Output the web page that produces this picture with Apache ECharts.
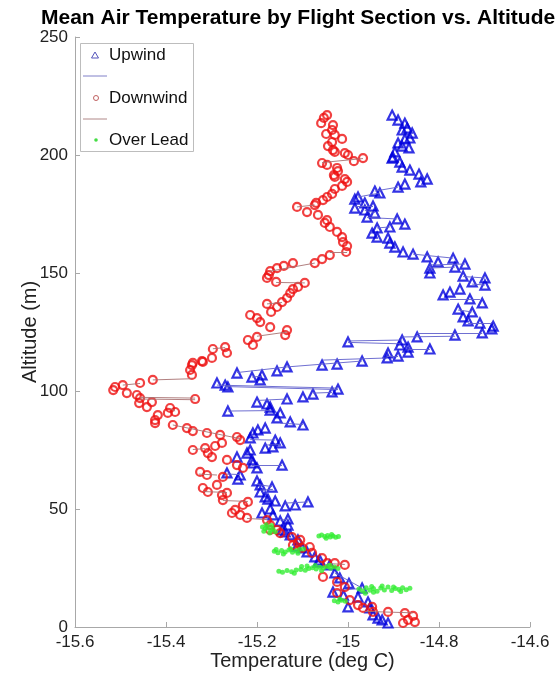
<!DOCTYPE html>
<html>
<head>
<meta charset="utf-8">
<script src="https://cdn.jsdelivr.net/npm/echarts@6/dist/echarts.min.js"></script>
<style>
html,body{margin:0;padding:0;background:#fff;}
#chart{width:556px;height:681px;}
</style>
</head>
<body>
<div id="chart"></div>
<script>
// ---- data (temperature in deg C, altitude in m) ----
var titleText = 'Mean Air Temperature by Flight Section vs. Altitude';
var xTicks = [-15.6, -15.4, -15.2, -15, -14.8, -14.6];
var yTicks = [0, 50, 100, 150, 200, 250];
var seriesNames = ['Upwind', 'Downwind', 'Over Lead'];

var upwindPoints = [
[-14.903,216.9],[-14.890,214.8],[-14.875,213.5],[-14.870,211.4],[-14.881,210.6],[-14.859,209.3],[-14.864,207.2],[-14.875,206.8],[-14.890,205.1],[-14.881,203.8],[-14.866,203.0],[-14.897,201.3],[-14.901,199.1],[-14.903,198.7],[-14.886,197.0],[-14.881,194.9],[-14.864,193.6],[-14.844,191.9],[-14.826,189.8],[-14.840,188.6],[-14.875,187.7],[-14.890,186.4],[-14.930,183.9],[-14.941,184.7],[-14.978,182.2],[-14.985,181.3],[-14.963,179.7],[-14.945,178.4],[-14.985,177.5],[-14.963,176.7],[-14.941,175.4],[-14.958,173.7],[-14.892,172.9],[-14.875,170.7],[-14.908,169.5],[-14.936,169.1],[-14.947,166.9],[-14.936,165.2],[-14.912,164.8],[-14.908,162.7],[-14.897,161.0],[-14.879,158.9],[-14.857,158.0],[-14.826,156.8],[-14.769,156.3],[-14.802,154.7],[-14.743,153.8],[-14.765,152.5],[-14.820,152.1],[-14.820,150.0],[-14.747,148.7],[-14.699,147.9],[-14.727,146.2],[-14.699,144.9],[-14.754,143.2],[-14.776,141.9],[-14.791,140.7],[-14.732,139.0],[-14.705,137.3],[-14.758,134.7],[-14.727,133.5],[-14.747,131.4],[-14.736,129.7],[-14.710,128.8],[-14.681,127.5],[-14.684,126.3],[-14.705,124.6],[-14.765,123.7],[-14.848,122.9],[-14.881,121.6],[-15.000,120.8],[-14.886,119.5],[-14.868,118.6],[-14.820,117.8],[-14.868,116.5],[-14.912,116.1],[-14.890,114.8],[-14.914,114.0],[-14.969,112.7],[-15.024,111.4],[-15.057,111.0],[-15.134,110.2],[-15.156,108.5],[-15.244,107.6],[-15.189,106.8],[-15.211,105.9],[-15.193,104.7],[-15.288,103.4],[-15.270,102.5],[-15.264,101.7],[-15.022,100.8],[-15.035,99.6],[-15.077,98.7],[-15.099,97.5],[-15.134,96.6],[-15.200,95.3],[-15.178,94.5],[-15.171,93.2],[-15.264,91.5],[-15.171,91.9],[-15.149,90.7],[-15.156,88.6],[-15.127,86.9],[-15.099,85.6],[-15.182,84.3],[-15.198,83.5],[-15.209,82.2],[-15.215,80.1],[-15.160,79.2],[-15.149,78.0],[-15.165,76.3],[-15.182,75.8],[-15.215,75.0],[-15.222,73.7],[-15.244,72.0],[-15.211,70.8],[-15.209,69.5],[-15.145,68.6],[-15.200,67.4],[-15.266,65.3],[-15.237,64.4],[-15.242,62.7],[-15.200,61.9],[-15.193,60.2],[-15.167,59.3],[-15.193,57.2],[-15.182,55.1],[-15.176,54.2],[-15.160,53.4],[-15.138,51.3],[-15.116,51.7],[-15.088,53.0],[-15.171,50.0],[-15.189,48.3],[-15.165,47.5],[-15.149,44.9],[-15.132,45.8],[-15.132,43.2],[-15.145,41.1],[-15.138,40.3],[-15.127,39.0],[-15.110,36.9],[-15.112,34.3],[-15.101,33.5],[-15.090,31.8],[-15.073,29.7],[-15.062,28.4],[-15.066,27.5],[-15.040,26.3],[-15.029,22.9],[-15.018,20.8],[-14.998,18.5],[-14.969,16.5],[-15.033,14.8],[-15.010,13.5],[-14.978,12.7],[-14.956,10.6],[-15.000,8.5],[-14.952,8.1],[-14.945,5.1],[-14.934,3.8],[-14.925,3.0],[-14.912,1.7]
];

var downwindPoints = [
[-15.046,216.9],[-15.053,215.7],[-15.059,213.5],[-15.033,212.7],[-15.035,210.6],[-15.048,208.9],[-15.029,208.5],[-15.013,206.8],[-15.035,205.5],[-15.044,203.8],[-15.033,202.1],[-15.029,201.3],[-15.007,200.8],[-15.000,200.0],[-14.967,198.7],[-14.987,197.4],[-15.057,196.6],[-15.046,195.8],[-15.024,194.5],[-15.022,193.2],[-15.031,191.5],[-15.029,190.7],[-15.007,189.8],[-15.002,188.6],[-15.013,186.9],[-15.029,185.6],[-15.035,183.5],[-15.046,182.2],[-15.055,180.9],[-15.073,178.8],[-15.070,179.7],[-15.112,178.0],[-15.090,175.8],[-15.066,174.6],[-15.046,172.4],[-15.051,171.2],[-15.040,169.5],[-15.024,167.4],[-15.013,165.2],[-15.011,163.1],[-15.002,161.4],[-15.004,158.9],[-15.040,157.6],[-15.057,155.9],[-15.073,154.2],[-15.121,154.2],[-15.141,153.0],[-15.156,152.1],[-15.171,150.8],[-15.174,149.1],[-15.178,147.9],[-15.158,146.2],[-15.095,145.8],[-15.110,144.1],[-15.121,143.2],[-15.127,141.5],[-15.134,139.4],[-15.145,137.7],[-15.178,136.9],[-15.156,135.6],[-15.169,133.5],[-15.215,132.2],[-15.200,130.9],[-15.193,129.2],[-15.171,127.1],[-15.134,125.8],[-15.138,123.7],[-15.200,122.9],[-15.220,121.6],[-15.209,119.5],[-15.270,118.6],[-15.297,117.8],[-15.266,116.1],[-15.299,114.0],[-15.321,112.7],[-15.341,111.9],[-15.319,112.3],[-15.343,111.0],[-15.347,108.9],[-15.343,106.8],[-15.429,104.7],[-15.457,103.4],[-15.495,102.5],[-15.512,101.7],[-15.516,100.4],[-15.486,99.1],[-15.464,98.3],[-15.457,97.0],[-15.336,96.6],[-15.431,95.3],[-15.459,94.9],[-15.442,93.2],[-15.391,92.8],[-15.380,91.1],[-15.396,90.7],[-15.418,89.8],[-15.424,87.7],[-15.424,86.4],[-15.385,85.6],[-15.354,84.3],[-15.341,83.0],[-15.310,82.2],[-15.281,81.4],[-15.244,80.5],[-15.237,79.2],[-15.277,78.0],[-15.292,76.7],[-15.314,75.8],[-15.341,75.0],[-15.308,73.7],[-15.299,72.0],[-15.266,70.8],[-15.244,68.6],[-15.231,67.4],[-15.325,65.7],[-15.310,64.4],[-15.275,63.6],[-15.288,60.2],[-15.319,58.9],[-15.308,57.2],[-15.266,56.8],[-15.277,55.9],[-15.275,53.8],[-15.220,53.0],[-15.231,51.7],[-15.248,49.6],[-15.255,48.3],[-15.237,47.5],[-15.222,46.2],[-15.178,45.3],[-15.171,43.2],[-15.171,41.1],[-15.156,41.1],[-15.149,39.8],[-15.123,38.1],[-15.105,36.9],[-15.110,35.6],[-15.121,34.7],[-15.084,33.9],[-15.101,33.5],[-15.079,31.4],[-15.057,29.2],[-15.046,27.1],[-15.029,27.1],[-15.007,26.3],[-15.055,21.2],[-15.024,19.1],[-15.007,16.9],[-15.024,14.4],[-14.996,11.4],[-14.978,9.3],[-14.947,8.5],[-14.967,8.1],[-14.945,6.4],[-14.912,6.4],[-14.875,5.9],[-14.857,4.7],[-14.853,2.1],[-14.868,3.0],[-14.879,1.7]
];

var overLeadPoints = [
[-15.188,42.4],[-15.182,41.6],[-15.176,42.2],[-15.170,40.9],[-15.165,41.5],[-15.160,40.4],[-15.172,39.8],[-15.180,43.3],[-15.185,40.6],[-15.168,43.0],
[-15.064,38.6],[-15.058,39.0],[-15.051,38.3],[-15.045,38.8],[-15.039,38.1],[-15.033,38.6],[-15.027,38.0],[-15.021,38.4],[-15.048,37.6],[-15.036,39.2],
[-15.162,32.1],[-15.154,31.5],[-15.146,32.4],[-15.138,31.8],[-15.130,32.6],[-15.122,31.7],[-15.114,32.3],[-15.106,32.9],[-15.098,33.1],[-15.142,30.9],[-15.158,32.8],[-15.126,33.2],[-15.110,31.2],
[-15.152,23.6],[-15.144,23.2],[-15.134,23.9],[-15.124,23.4],[-15.114,24.1],[-15.104,24.4],[-15.094,24.0],[-15.086,24.8],[-15.078,25.1],[-15.070,24.6],[-15.062,25.3],[-15.054,25.0],[-15.046,25.6],[-15.038,24.9],[-15.030,25.4],[-15.022,24.8],[-15.102,25.6],[-15.072,26.1],[-15.058,23.8],[-15.090,25.9],[-15.118,22.8],[-15.040,26.2],
[-14.976,16.1],[-14.968,15.3],[-14.960,16.6],[-14.952,15.6],[-14.944,16.3],[-14.936,15.1],[-14.928,16.5],[-14.920,15.7],[-14.912,16.9],[-14.904,15.5],[-14.896,16.3],[-14.888,15.9],[-14.880,16.6],[-14.872,15.8],[-14.864,16.4],[-14.962,14.3],[-14.944,14.7],[-14.925,17.4],[-14.948,17.2],[-14.900,17.0],[-14.884,15.0],
[-15.030,11.1],[-15.022,10.6],[-15.014,11.3],[-15.006,10.9],[-15.018,11.8]
];

// connecting segments: [temp1, alt1, temp2, alt2]
var upwindLinks = [
[-14.941,184.7,-14.890,186.4],[-14.978,182.2,-14.930,183.9],[-14.985,178.4,-14.945,178.4],[-14.963,176.5,-14.941,175.6],[-14.958,173.5,-14.892,172.9],[-14.936,169.1,-14.908,169.5],[-14.857,158.0,-14.769,156.3],[-14.820,153.4,-14.743,153.8],[-14.820,152.1,-14.765,152.5],[-14.747,148.5,-14.699,147.9],[-14.727,145.3,-14.699,144.9],[-14.776,139.0,-14.710,139.0],[-14.758,134.3,-14.727,133.5],[-14.736,128.8,-14.684,128.8],[-14.848,124.6,-14.705,124.6],[-14.881,122.9,-14.765,123.2],[-15.000,121.2,-14.881,121.6],[-15.000,120.6,-14.886,120.0],[-14.868,117.8,-14.820,117.8],[-14.914,114.8,-14.890,114.8],[-15.055,113.1,-14.914,114.0],[-15.134,110.2,-14.969,112.7],[-15.244,107.8,-15.134,110.2],[-15.211,105.9,-15.189,106.3],[-15.288,102.5,-15.022,101.2],[-15.270,101.9,-15.022,100.6],[-15.077,99.1,-15.035,99.4],[-15.200,96.0,-15.134,96.6],[-15.264,91.5,-15.171,91.7],[-15.149,86.4,-15.099,85.8],[-15.215,79.4,-15.160,79.2],[-15.182,77.1,-15.149,77.3],[-15.211,68.6,-15.145,68.6],[-15.266,64.8,-15.237,64.6],[-15.200,60.4,-15.167,59.5],[-15.193,58.0,-15.165,58.3],[-15.138,52.5,-15.088,53.0],[-15.149,45.3,-15.132,45.6],[-15.033,15.4,-14.969,16.3],[-15.029,22.9,-14.969,16.5]
];
var downwindLinks = [
[-15.057,196.8,-14.967,198.5],[-15.112,178.0,-15.073,178.8],[-15.040,158.9,-15.002,158.9],[-15.171,150.8,-15.073,154.2],[-15.158,146.0,-15.095,145.8],[-15.178,136.9,-15.145,137.5],[-15.200,123.2,-15.134,125.0],[-15.297,117.9,-15.270,118.4],[-15.429,104.7,-15.343,105.2],[-15.495,102.5,-15.457,103.2],[-15.457,97.3,-15.336,97.0],[-15.457,96.6,-15.336,96.3],[-15.391,92.6,-15.380,91.5],[-15.385,85.6,-15.237,79.8],[-15.341,75.2,-15.314,75.6],[-15.328,64.8,-15.288,64.4],[-15.319,57.4,-15.266,57.0],[-15.275,53.6,-15.220,53.2],[-15.222,46.0,-15.178,45.5],[-15.046,26.9,-15.007,26.5],[-14.963,6.6,-14.857,6.0]
];

// ---- styles ----
var FONT = 'Liberation Sans, Arial, Helvetica, sans-serif';
var BLUE = '#0000dd', RED = '#ee1111', GREEN = '#33ee33';
var BLUE_LINE = '#5f5fcc', RED_LINE = '#a87272';
var AXIS = '#a8a8a8';

function toLines(links) {
  return links.map(function (l) { return { coords: [[l[0], l[1]], [l[2], l[3]]] }; });
}

var chart = echarts.init(document.getElementById('chart'), null, { renderer: 'canvas' });

var legendX = 80, legendY = 43;
var option = {
  animation: false,
  backgroundColor: '#ffffff',
  title: {
    text: titleText,
    left: 41, top: 8, padding: 0,
    textStyle: { fontFamily: FONT, fontSize: 21, fontWeight: 'bold', color: '#000' }
  },
  grid: { left: 75, right: 26, top: 37, bottom: 54, containLabel: false },
  xAxis: {
    type: 'value', min: xTicks[0], max: xTicks[xTicks.length - 1], interval: 0.2,
    name: 'Temperature (deg C)', nameLocation: 'middle', nameGap: 24, nameMoveOverlap: false,
    nameTextStyle: { fontFamily: FONT, fontSize: 20, color: '#222' },
    axisLine: { show: true, lineStyle: { color: AXIS, width: 1 } },
    axisTick: { show: true, inside: true, length: 5, lineStyle: { color: AXIS } },
    axisLabel: { fontFamily: FONT, fontSize: 17, color: '#222', margin: 7,
      formatter: function (v) { return String(Math.round(v * 10) / 10); } },
    splitLine: { show: false }
  },
  yAxis: {
    type: 'value', min: yTicks[0], max: yTicks[yTicks.length - 1], interval: 50,
    name: 'Altitude (m)', nameLocation: 'middle', nameGap: 35, nameRotate: 90, nameMoveOverlap: false,
    nameTextStyle: { fontFamily: FONT, fontSize: 20, color: '#222' },
    axisLine: { show: true, lineStyle: { color: AXIS, width: 1 } },
    axisTick: { show: true, inside: true, length: 5, lineStyle: { color: AXIS } },
    axisLabel: { fontFamily: FONT, fontSize: 17, color: '#222', margin: 7 },
    splitLine: { show: false }
  },
  series: [
    { name: seriesNames[0], type: 'scatter', data: upwindPoints, symbol: 'triangle', symbolSize: 9,
      itemStyle: { color: 'rgba(255,255,255,0)', borderColor: BLUE, borderWidth: 2.2 }, z: 2, silent: true },
    { name: 'upwindLinks', type: 'lines', coordinateSystem: 'cartesian2d', data: toLines(upwindLinks),
      lineStyle: { color: BLUE_LINE, width: 1, opacity: 0.9 }, z: 3, silent: true },
    { name: seriesNames[1], type: 'scatter', data: downwindPoints, symbol: 'circle', symbolSize: 8,
      itemStyle: { color: 'rgba(255,255,255,0)', borderColor: RED, borderWidth: 2.2 }, z: 4, silent: true },
    { name: 'downwindLinks', type: 'lines', coordinateSystem: 'cartesian2d', data: toLines(downwindLinks),
      lineStyle: { color: RED_LINE, width: 1, opacity: 0.9 }, z: 5, silent: true },
    { name: seriesNames[2], type: 'scatter', data: overLeadPoints, symbol: 'circle', symbolSize: 5,
      itemStyle: { color: GREEN }, z: 6, silent: true }
  ],
  graphic: [
    { type: 'rect', left: legendX, top: legendY, shape: { width: 113, height: 108 },
      style: { fill: '#fff', stroke: '#bdbdbd', lineWidth: 1 }, z: 100 },
    { type: 'polygon', shape: { points: [[95, 52], [91.5, 58], [98.5, 58]] },
      style: { fill: 'none', stroke: '#5555bb', lineWidth: 1 }, z: 101 },
    { type: 'text', left: 109, top: 47, style: { text: seriesNames[0], font: '17px ' + FONT, fill: '#111' }, z: 101 },
    { type: 'line', shape: { x1: 83, y1: 76, x2: 107, y2: 76 }, style: { stroke: '#8080c8', lineWidth: 1 }, z: 101 },
    { type: 'circle', shape: { cx: 96, cy: 98, r: 2.5 }, style: { fill: 'none', stroke: '#c06060', lineWidth: 1 }, z: 101 },
    { type: 'text', left: 109, top: 90, style: { text: seriesNames[1], font: '17px ' + FONT, fill: '#111' }, z: 101 },
    { type: 'line', shape: { x1: 83, y1: 119, x2: 107, y2: 119 }, style: { stroke: '#b08888', lineWidth: 1 }, z: 101 },
    { type: 'circle', shape: { cx: 96, cy: 140, r: 1.8 }, style: { fill: '#44dd44' }, z: 101 },
    { type: 'text', left: 109, top: 132, style: { text: seriesNames[2], font: '17px ' + FONT, fill: '#111' }, z: 101 }
  ]
};
chart.setOption(option);
</script>
</body>
</html>
